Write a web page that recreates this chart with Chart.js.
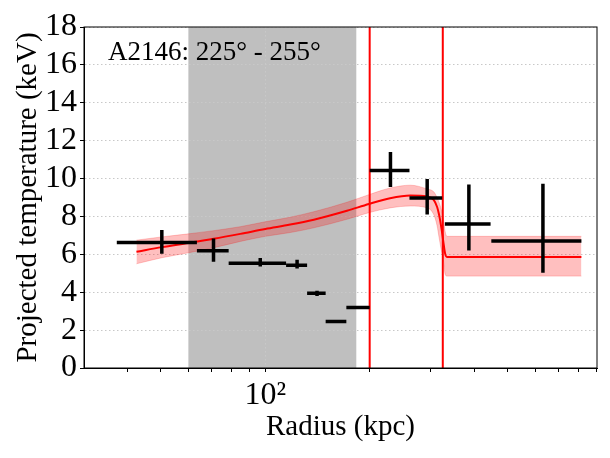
<!DOCTYPE html>
<html>
<head>
<meta charset="utf-8">
<script src="https://cdn.jsdelivr.net/npm/chart.js@4/dist/chart.umd.min.js"></script>
<style>
  html, body { margin: 0; padding: 0; background: #fff; }
</style>
</head>
<body>
<canvas id="chart" width="610" height="458"></canvas>
<script>
// measured temperature profile (kpc, keV)
const radius   = [50.3, 70.9, 96.7, 123.5, 141, 160, 185, 229.6, 293, 386.5, 632];
const radiusLo = [37.3, 63.5, 78.4, 114.8, 132, 149.3, 171.3, 200, 260.5, 329.5, 448.6];
const radiusHi = [63.5, 78.4, 114.8, 132, 149.3, 171.3, 200, 260.5, 323.7, 446.4, 816];
const temp     = [6.62, 6.19, 5.53, 5.43, 3.94, 2.45, 3.19, 10.42, 8.98, 7.6, 6.7];
const tempLo   = [6.03, 5.61, 5.36, 5.25, 3.8, 2.4, 3.15, 9.55, 8.1, 6.2, 5.03];
const tempHi   = [7.28, 6.83, 5.8, 5.71, 4.08, 2.5, 3.25, 11.4, 9.97, 9.68, 9.73];

// shock model + 1 sigma band
const modelR  = [42.5, 50.3, 60, 71, 84.7, 100, 118, 138, 172, 199, 229, 262, 293, 306, 313, 317, 322, 326, 330, 334, 816];
const modelT  = [6.14, 6.38, 6.6, 6.82, 7.08, 7.34, 7.57, 7.83, 8.3, 8.66, 8.96, 9.1, 9.05, 8.88, 8.5, 8.1, 7.4, 6.7, 6.05, 5.86, 5.86];
const modelHi = [6.75, 6.92, 7.08, 7.25, 7.46, 7.72, 7.96, 8.25, 8.75, 9.15, 9.5, 9.65, 9.45, 9.3, 9.0, 8.75, 8.35, 7.9, 7.22, 6.95, 6.95];
const modelLo = [5.5, 5.82, 6.08, 6.35, 6.68, 6.95, 7.15, 7.4, 7.85, 8.2, 8.45, 8.55, 8.45, 8.1, 7.5, 6.9, 6.2, 5.75, 4.96, 4.85, 4.85];

// excluded region and edge positions (kpc)
const greyBand = [60, 183];
const edges = [200, 325];

const xTicks = [40, 50, 60, 70, 80, 90, 100, 200, 300, 400, 500, 600, 700, 800, 900];
const yTicks = [0, 2, 4, 6, 8, 10, 12, 14, 16, 18];

const FONT = "'Liberation Serif', 'DejaVu Serif', serif";

const pts = (xs, ys) => xs.map((x, i) => ({ x: x, y: ys[i] }));

const decor = {
  id: "decor",
  beforeDraw(chart) {
    const { ctx, chartArea: a, scales: { x } } = chart;
    ctx.save();
    ctx.fillStyle = "#bfbfbf";
    const x0 = x.getPixelForValue(greyBand[0]);
    const x1 = x.getPixelForValue(greyBand[1]);
    ctx.fillRect(x0, a.top, x1 - x0, a.bottom - a.top);
    ctx.restore();
  },
  afterDatasetsDraw(chart) {
    const { ctx, chartArea: a, scales: { x, y } } = chart;
    ctx.save();

    // vertical edge markers
    ctx.strokeStyle = "#ff0000";
    ctx.lineWidth = 2;
    edges.forEach(e => {
      const px = x.getPixelForValue(e);
      ctx.beginPath();
      ctx.moveTo(px, a.top);
      ctx.lineTo(px, a.bottom);
      ctx.stroke();
    });

    // error bars
    ctx.strokeStyle = "#000";
    ctx.lineWidth = 3.5;
    ctx.lineCap = "butt";
    radius.forEach((r, i) => {
      const cy = y.getPixelForValue(temp[i]);
      const cx = x.getPixelForValue(r);
      ctx.beginPath();
      ctx.moveTo(x.getPixelForValue(radiusLo[i]), cy);
      ctx.lineTo(x.getPixelForValue(radiusHi[i]), cy);
      ctx.moveTo(cx, y.getPixelForValue(tempLo[i]));
      ctx.lineTo(cx, y.getPixelForValue(tempHi[i]));
      ctx.stroke();
    });

    // frame
    ctx.strokeStyle = "#000";
    ctx.lineWidth = 1;
    ctx.strokeRect(a.left, a.top, a.right - a.left, a.bottom - a.top);

    // label
    ctx.fillStyle = "#000";
    ctx.font = "27px " + FONT;
    ctx.textBaseline = "alphabetic";
    ctx.fillText("A2146: 225\u00b0 - 255\u00b0", a.left + 24, a.top + 33);
    ctx.restore();
  }
};

new Chart(document.getElementById("chart"), {
  type: "scatter",
  data: {
    datasets: [
      {
        data: pts(modelR, modelLo),
        showLine: true,
        cubicInterpolationMode: "monotone",
        borderColor: "rgba(255,0,0,0.2)",
        borderWidth: 1,
        pointRadius: 0,
        fill: false
      },
      {
        data: pts(modelR, modelHi),
        showLine: true,
        cubicInterpolationMode: "monotone",
        borderColor: "rgba(255,0,0,0.2)",
        borderWidth: 1,
        pointRadius: 0,
        backgroundColor: "rgba(255,0,0,0.25)",
        fill: "-1"
      },
      {
        data: pts(modelR, modelT),
        showLine: true,
        cubicInterpolationMode: "monotone",
        borderColor: "#ff0000",
        borderWidth: 2,
        pointRadius: 0,
        fill: false
      }
    ]
  },
  options: {
    responsive: false,
    devicePixelRatio: 1,
    animation: false,
    layout: { padding: { left: 0, top: 27, right: 13, bottom: 0 } },
    plugins: { legend: { display: false }, tooltip: { enabled: false } },
    scales: {
      x: {
        type: "logarithmic",
        min: 30,
        max: 905,
        afterBuildTicks: s => { s.ticks = xTicks.map(v => ({ value: v })); },
        afterFit: s => { s.height = 90; },
        ticks: {
          autoSkip: false,
          maxRotation: 0,
          padding: 4,
          color: "#000",
          font: { family: FONT, size: 32 },
          callback: v => (v === 100 ? "10\u00b2" : "")
        },
        grid: {
          color: c => (c.tick && c.tick.value === 100 ? "#c8c8c8" : "rgba(0,0,0,0)"),
          tickColor: "#000",
          tickLength: 4,
          lineWidth: 1
        },
        border: { color: "#000", dash: [1.5, 2.5] },
        title: {
          display: true,
          text: "Radius (kpc)",
          color: "#000",
          font: { family: FONT, size: 29 },
          padding: { top: 0, bottom: 13 }
        }
      },
      y: {
        min: 0,
        max: 18,
        afterBuildTicks: s => { s.ticks = yTicks.map(v => ({ value: v })); },
        afterFit: s => { s.width = 84; },
        ticks: {
          autoSkip: false,
          padding: 3,
          color: "#000",
          font: { family: FONT, size: 32, lineHeight: 1 }
        },
        grid: {
          color: "#c8c8c8",
          tickColor: "#000",
          tickLength: 4,
          lineWidth: 1
        },
        border: { color: "#000", dash: [1.5, 2.5] },
        title: {
          display: true,
          text: "Projected temperature (keV)",
          color: "#000",
          font: { family: FONT, size: 29 },
          padding: { top: 11, bottom: 0 }
        }
      }
    }
  },
  plugins: [decor]
});
</script>
</body>
</html>
